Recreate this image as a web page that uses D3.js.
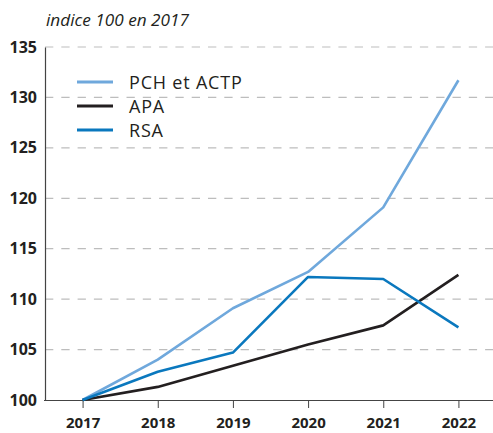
<!DOCTYPE html>
<html>
<head>
<meta charset="utf-8">
<script src="https://cdn.jsdelivr.net/npm/d3@7"></script>
<style>
  html, body { margin: 0; padding: 0; background: #fff; }
  svg { display: block; font-family: "Open Sans", "Noto Sans", sans-serif; }
</style>
</head>
<body>
<svg id="chart" width="493" height="433"></svg>
<script>
// Évolution des dépenses, indice 100 en 2017
const years = ["2017", "2018", "2019", "2020", "2021", "2022"];
const pchActp = [100, 104.0, 109.1, 112.7, 119.1, 131.7];
const apa = [100, 101.3, 103.4, 105.5, 107.4, 112.4];
const rsa = [100, 102.8, 104.7, 112.2, 112.0, 107.2];
const yTicks = [100, 105, 110, 115, 120, 125, 130, 135];

const seriesList = [
  { name: "PCH et ACTP", values: pchActp, color: "#6fa8dc" },
  { name: "APA", values: apa, color: "#231f20" },
  { name: "RSA", values: rsa, color: "#0a78be" }
];

const svg = d3.select("#chart");
const plotLeft = 45, plotRight = 493, plotTop = 47, plotBottom = 400;

const x = d3.scalePoint().domain(years).range([plotLeft, 496]).padding(0.5);
const y = d3.scaleLinear().domain([100, 135]).range([plotBottom, plotTop]);

// grille horizontale en tirets
svg.append("g")
  .selectAll("line")
  .data(yTicks.filter(d => d > 100))
  .join("line")
  .attr("x1", plotLeft).attr("x2", plotRight)
  .attr("y1", d => y(d)).attr("y2", d => y(d))
  .attr("stroke", "#bdbdbd")
  .attr("stroke-width", 1.2)
  .attr("stroke-dasharray", "8.3,8");

// axe vertical
const yAxis = svg.append("g")
  .attr("transform", `translate(${plotLeft},0)`)
  .call(d3.axisLeft(y).tickValues(yTicks).tickSize(0).tickPadding(8));
yAxis.select(".domain").attr("stroke", "#444").attr("stroke-width", 1.2);
yAxis.selectAll("text")
  .attr("font-family", "'Open Sans', sans-serif")
  .attr("font-size", 16)
  .attr("font-weight", "bold")
  .attr("fill", "#231f20");

// axe horizontal
const xAxis = svg.append("g")
  .attr("transform", `translate(0,${plotBottom})`)
  .call(d3.axisBottom(x).tickSize(8).tickPadding(9).tickSizeOuter(0));
xAxis.select(".domain").attr("d", `M${plotLeft - 1},0.5H${plotRight}`).attr("stroke", "#444").attr("stroke-width", 1.2);
xAxis.selectAll(".tick line").attr("stroke", "#444").attr("stroke-width", 1);
xAxis.selectAll("text")
  .attr("font-family", "'Open Sans', sans-serif")
  .attr("font-size", 15)
  .attr("font-weight", "bold")
  .attr("fill", "#231f20");

// courbes
const line = d3.line()
  .x((d, i) => x(years[i]))
  .y(d => y(d));

svg.append("g")
  .selectAll("path")
  .data(seriesList)
  .join("path")
  .attr("d", d => line(d.values))
  .attr("fill", "none")
  .attr("stroke", d => d.color)
  .attr("stroke-width", 2.6)
  .attr("stroke-linejoin", "round");

// légende
const legend = svg.append("g").attr("transform", "translate(77,82)");
const item = legend.selectAll("g")
  .data(seriesList)
  .join("g")
  .attr("transform", (d, i) => `translate(0,${i * 24})`);
item.append("line")
  .attr("x1", 0).attr("x2", 36)
  .attr("stroke", d => d.color)
  .attr("stroke-width", 3);
item.append("text")
  .attr("x", 52)
  .attr("y", 6.5)
  .attr("font-size", 18)
  .attr("letter-spacing", 0.8)
  .attr("fill", "#231f20")
  .text(d => d.name);

// titre d'unité
svg.append("text")
  .attr("x", 46)
  .attr("y", 26)
  .attr("font-size", 17.2)
  .attr("font-style", "italic")
  .attr("fill", "#231f20")
  .text("indice 100 en 2017");
</script>
</body>
</html>
